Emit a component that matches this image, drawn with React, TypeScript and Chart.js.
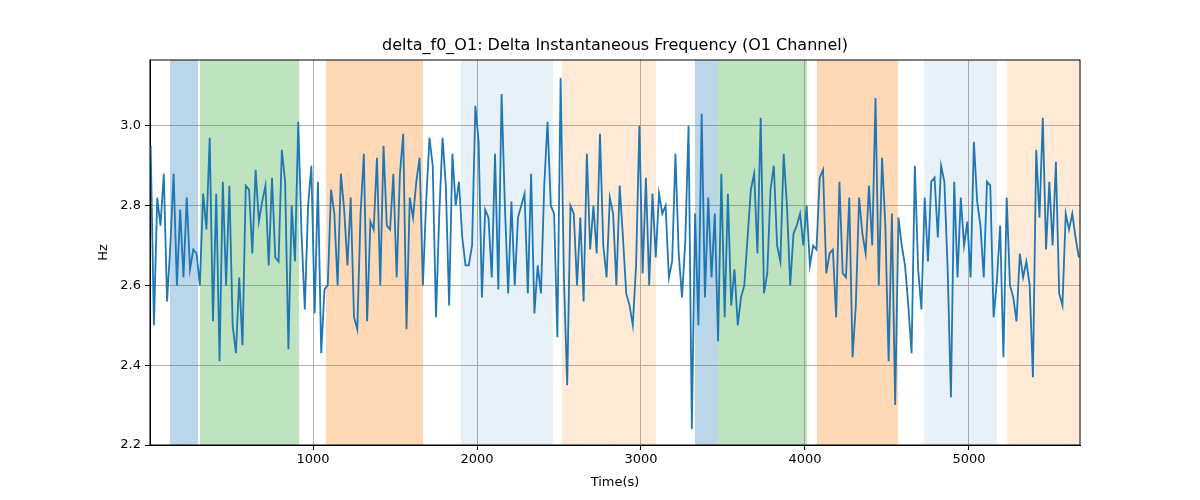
import { useEffect, useRef } from 'react';
import Chart from 'chart.js/auto';

const xStart = 10;
const xStep = 20;
const values: number[] = [
  2.95,2.50,2.82,2.75,2.88,2.56,2.70,2.88,2.60,2.79,
  2.62,2.82,2.64,2.69,2.68,2.60,2.83,2.74,2.97,2.51,
  2.83,2.41,2.86,2.60,2.85,2.50,2.43,2.62,2.45,2.85,
  2.84,2.68,2.89,2.76,2.81,2.85,2.65,2.87,2.67,2.66,
  2.94,2.86,2.44,2.80,2.66,3.01,2.73,2.54,2.80,2.90,
  2.53,2.86,2.43,2.59,2.60,2.84,2.78,2.60,2.88,2.79,
  2.65,2.82,2.52,2.49,2.78,2.93,2.51,2.76,2.74,2.92,
  2.60,2.95,2.75,2.74,2.88,2.62,2.88,2.98,2.49,2.82,
  2.77,2.86,2.92,2.60,2.81,2.97,2.90,2.52,2.78,2.97,
  2.85,2.55,2.93,2.80,2.86,2.72,2.65,2.65,2.70,3.05,
  2.96,2.57,2.79,2.77,2.62,2.93,2.59,3.08,2.80,2.58,
  2.81,2.60,2.77,2.80,2.83,2.58,2.88,2.53,2.65,2.58,
  2.85,3.01,2.80,2.78,2.47,3.12,2.62,2.35,2.80,2.78,
  2.60,2.77,2.56,2.93,2.69,2.80,2.68,2.98,2.70,2.62,
  2.82,2.78,2.60,2.85,2.72,2.58,2.55,2.50,2.65,3.00,
  2.63,2.87,2.60,2.83,2.67,2.83,2.78,2.80,2.62,2.66,
  2.93,2.68,2.57,2.71,3.00,2.24,2.78,2.50,3.03,2.57,
  2.82,2.62,2.78,2.46,2.88,2.52,2.83,2.55,2.64,2.50,
  2.57,2.60,2.72,2.84,2.88,2.68,3.02,2.58,2.63,2.84,
  2.90,2.70,2.66,2.93,2.80,2.60,2.73,2.75,2.78,2.70,
  2.80,2.65,2.70,2.69,2.87,2.89,2.63,2.68,2.69,2.52,
  2.86,2.63,2.62,2.82,2.42,2.55,2.82,2.73,2.68,2.85,
  2.70,3.07,2.60,2.92,2.75,2.41,2.78,2.30,2.77,2.70,
  2.65,2.55,2.43,2.90,2.64,2.54,2.82,2.66,2.86,2.87,
  2.72,2.90,2.86,2.64,2.32,2.86,2.62,2.82,2.70,2.76,
  2.62,2.96,2.81,2.75,2.62,2.86,2.85,2.52,2.61,2.75,
  2.42,2.82,2.60,2.57,2.51,2.68,2.62,2.66,2.60,2.37,
  2.94,2.77,3.02,2.69,2.86,2.70,2.91,2.58,2.55,2.78,
  2.74,2.78,2.72,2.67,
];

const spanStarts = [128, 311, 1079, 1902, 2518, 3329, 3470, 4073, 4726, 5232];
const spanEnds = [299, 915, 1671, 2463, 3091, 3470, 4012, 4567, 5171, 5677];
const spanColors = [
  'rgba(31,119,180,0.3)', 'rgba(44,160,44,0.3)', 'rgba(255,127,14,0.3)',
  'rgba(31,119,180,0.1)', 'rgba(255,127,14,0.16)',
  'rgba(31,119,180,0.3)', 'rgba(44,160,44,0.3)', 'rgba(255,127,14,0.3)',
  'rgba(31,119,180,0.1)', 'rgba(255,127,14,0.16)',
];
const xTicks = [1000, 2000, 3000, 4000, 5000];
const yTicks = [2.2, 2.4, 2.6, 2.8, 3.0];
const titleText = 'delta_f0_O1: Delta Instantaneous Frequency (O1 Channel)';

const spansPlugin = {
  id: 'spans',
  beforeDatasetsDraw(chart: any) {
    const { ctx, chartArea, scales } = chart;
    ctx.save();
    spanStarts.forEach((s, i) => {
      const a = scales.x.getPixelForValue(s);
      const b = scales.x.getPixelForValue(spanEnds[i]);
      ctx.fillStyle = spanColors[i];
      ctx.fillRect(a, chartArea.top, b - a, chartArea.bottom - chartArea.top);
    });
    ctx.restore();
  },
  afterDraw(chart: any) {
    const { ctx, chartArea } = chart;
    ctx.save();
    ctx.strokeStyle = '#000';
    ctx.lineWidth = 1;
    ctx.strokeRect(chartArea.left, chartArea.top, chartArea.right - chartArea.left, chartArea.bottom - chartArea.top);
    ctx.fillStyle = '#000';
    ctx.font = '16px "DejaVu Sans"';
    ctx.textAlign = 'center';
    ctx.textBaseline = 'bottom';
    ctx.fillText(titleText, (chartArea.left + chartArea.right) / 2, chartArea.top - 6);
    ctx.restore();
  },
};

const App = () => {
  const chartRef = useRef<HTMLCanvasElement | null>(null);
  const chartInstance = useRef<Chart | null>(null);

  useEffect(() => {
    if (!chartRef.current) return;
    document.body.style.margin = '0';
    if (chartInstance.current) chartInstance.current.destroy();
    const ctx = chartRef.current.getContext('2d');
    if (!ctx) return;
    Chart.defaults.font.family = 'DejaVu Sans';

    chartInstance.current = new Chart(ctx, {
      type: 'line',
      data: {
        datasets: [{
          data: values.map((v, i) => ({ x: xStart + i * xStep, y: v })),
          borderColor: '#1f77b4',
          borderWidth: 1.8,
          pointRadius: 0,
          tension: 0,
        }],
      },
      plugins: [spansPlugin],
      options: {
        animation: false,
        responsive: false,
        layout: { padding: { left: 96, right: 120, top: 60, bottom: 10 } },
        plugins: {
          legend: { display: false },
          tooltip: { enabled: false },
        },
        scales: {
          x: {
            type: 'linear',
            min: 6,
            max: 5677,
            afterFit: (s: any) => { s.height = 45; },
            afterBuildTicks: (s: any) => { s.ticks = xTicks.map(v => ({ value: v })); },
            title: { display: true, text: 'Time(s)', color: '#000', font: { size: 13 }, padding: 0 },
            ticks: { color: '#000', font: { size: 13 }, maxRotation: 0, padding: 2, callback: (v: any) => String(v) },
            grid: { color: '#b0b0b0', tickColor: '#000', tickLength: 5 },
            border: { color: '#000' },
          },
          y: {
            min: 2.2,
            max: 3.165,
            afterFit: (s: any) => { s.width = 54; },
            afterBuildTicks: (s: any) => { s.ticks = yTicks.map(v => ({ value: v })); },
            title: { display: true, text: 'Hz', color: '#000', font: { size: 13 }, padding: 0 },
            ticks: { color: '#000', font: { size: 13 }, padding: 4, callback: (v: any) => Number(v).toFixed(1) },
            grid: { color: '#b0b0b0', tickColor: '#000', tickLength: 5 },
            border: { color: '#000' },
          },
        },
      },
    });

    return () => {
      if (chartInstance.current) chartInstance.current.destroy();
    };
  }, []);

  return <canvas ref={chartRef} width={1200} height={500} style={{ display: 'block' }} />;
};

export default App;
